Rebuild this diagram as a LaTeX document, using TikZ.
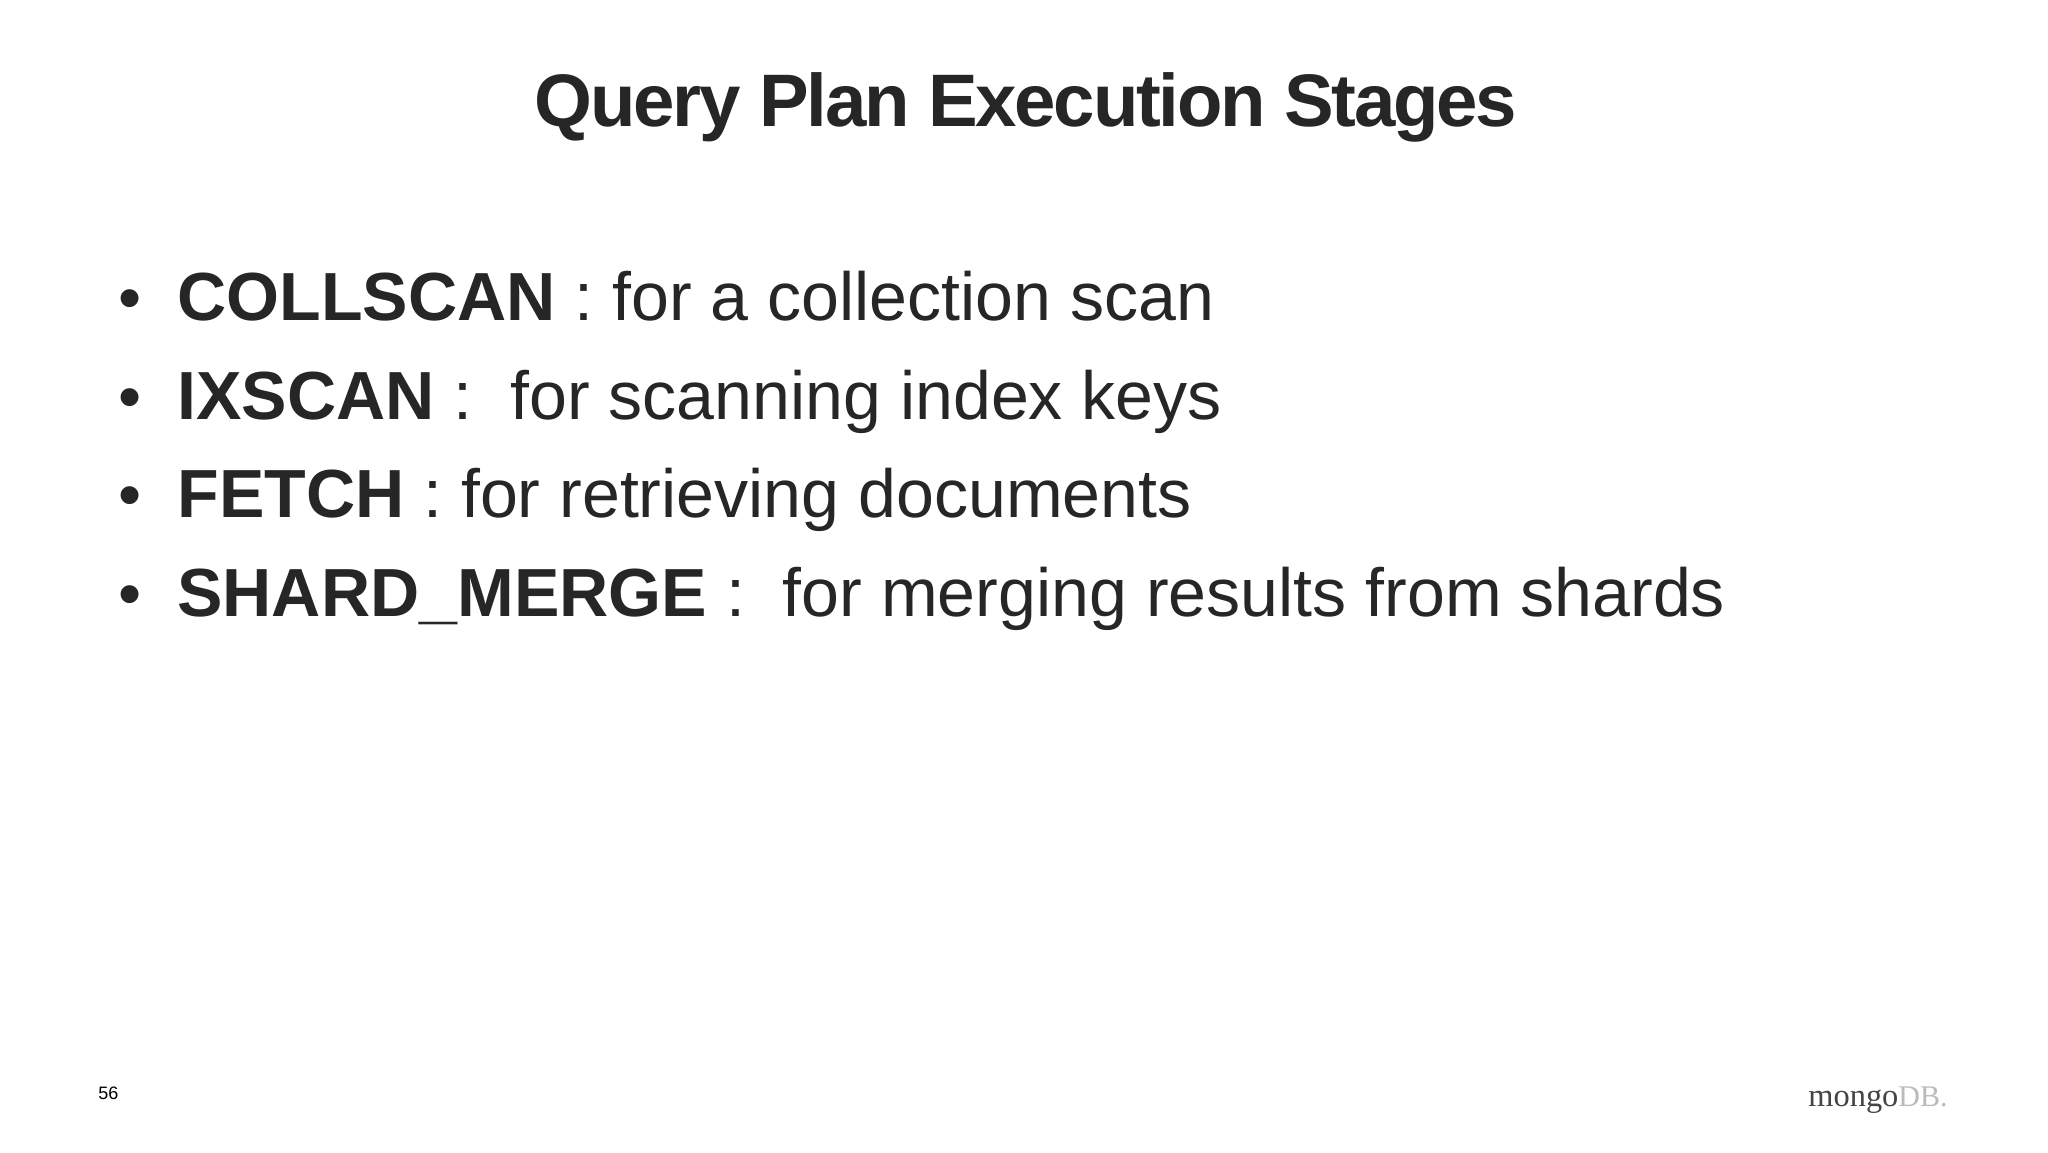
\documentclass[tikz,border=0pt]{standalone}
\usepackage{fontspec}
\setmainfont{Liberation Sans}
\newfontfamily\logofont{Liberation Serif}
\definecolor{ink}{HTML}{262626}
\definecolor{logodark}{HTML}{444444}
\definecolor{logolight}{HTML}{BBBBBB}
\tikzset{
  px/.style={x=0.5pt,y=-0.5pt},
  titletext/.style={font=\fontsize{37.2}{41}\selectfont\bfseries\addfontfeatures{LetterSpace=-3},text=ink,inner sep=0,anchor=base},
  itemtext/.style={font=\fontsize{34.05}{38}\selectfont,text=ink,inner sep=0,anchor=base west},
  bullettext/.style={font=\fontsize{33}{38}\selectfont,text=ink,inner sep=0,anchor=base west},
  pagetext/.style={font=\fontsize{9}{11}\selectfont,text=black,inner sep=0,anchor=base west},
}
\begin{document}
\begin{tikzpicture}[px]
\useasboundingbox (0,0) rectangle (2048,1152);
\fill[white] (0,0) rectangle (2048,1152);
\node[titletext] (title) at (1026,126) {Query Plan Execution Stages};
\node[bullettext] (b1) at (118,320) {•};
\node[itemtext] (i1) at (177,320) {\textbf{COLLSCAN} : for a collection scan};
\node[bullettext] (b2) at (118,419) {•};
\node[itemtext] (i2) at (177,419) {\textbf{IXSCAN} :\ \ for scanning index keys};
\node[bullettext] (b3) at (118,517) {•};
\node[itemtext] (i3) at (177,517) {\textbf{FETCH} : for retrieving documents};
\node[bullettext] (b4) at (118,616) {•};
\node[itemtext] (i4) at (177,616) {\textbf{SHARD\_MERGE} :\ \ for merging results from shards};
\node[pagetext] (page) at (98,1099) {56};
\node[inner sep=0,anchor=base west,font=\logofont] (logo) at (1808,1106) {\textcolor{logodark}{\fontsize{16.2}{17}\selectfont mongo}\textcolor{logolight}{\fontsize{15}{17}\selectfont DB.}};
\end{tikzpicture}
\end{document}
